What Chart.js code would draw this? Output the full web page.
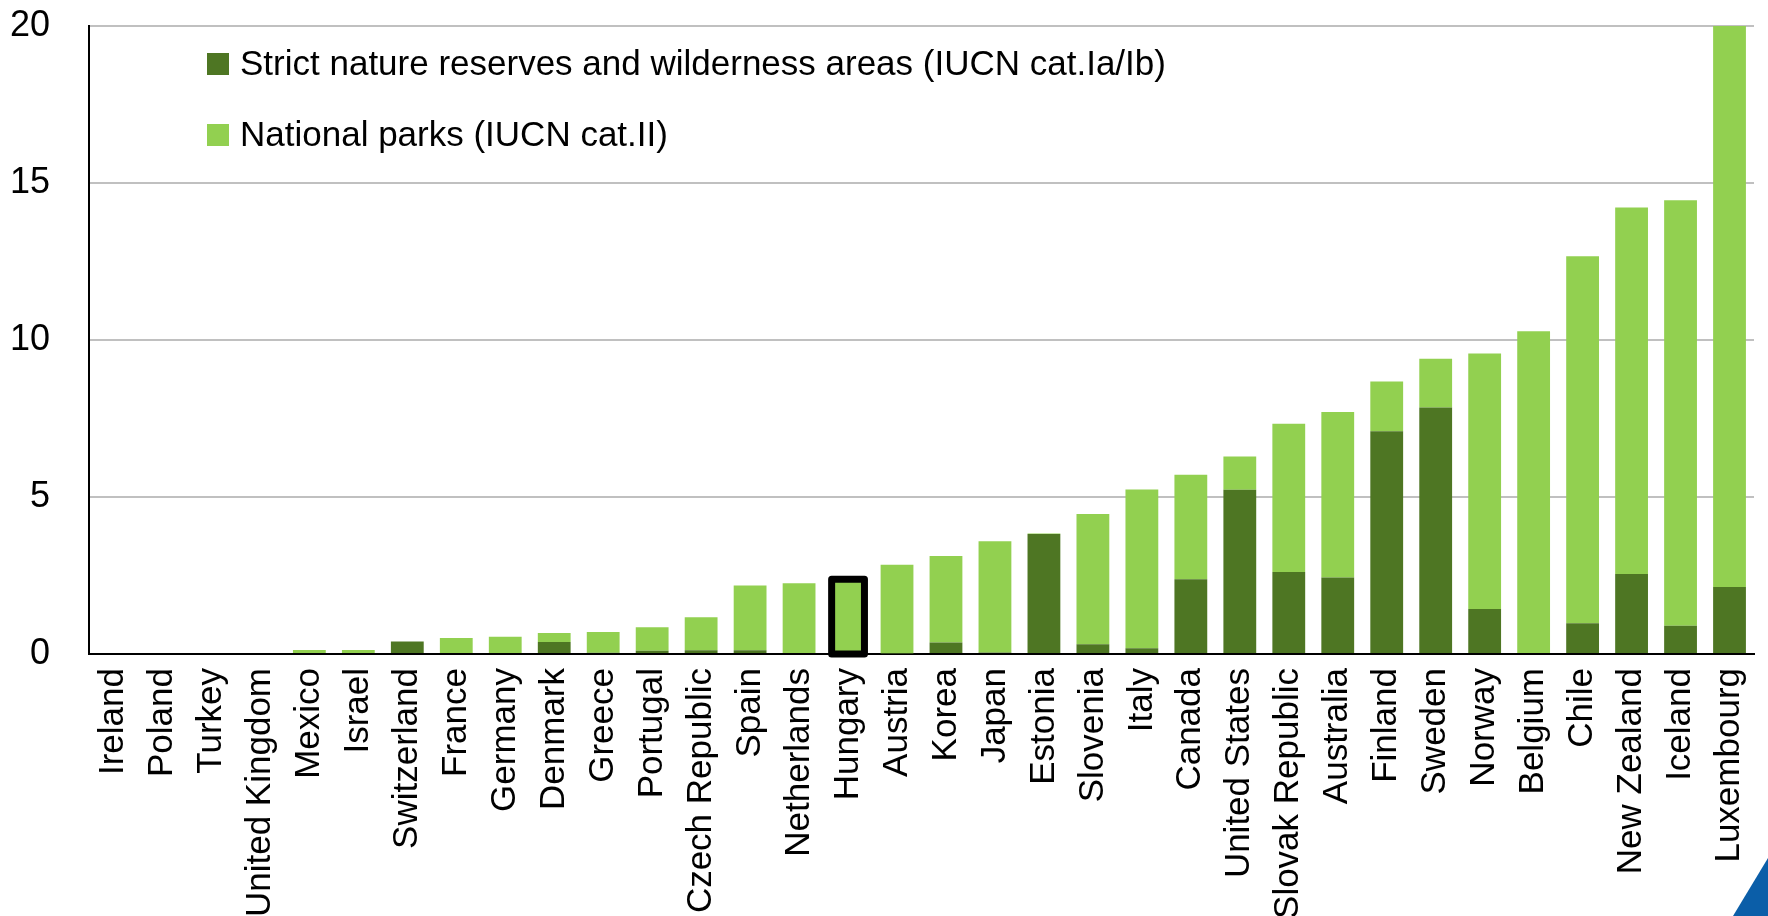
<!DOCTYPE html>
<html>
<head>
<meta charset="utf-8">
<script src="https://cdn.jsdelivr.net/npm/chart.js@4"></script>
<style>
  html, body { margin: 0; padding: 0; background: #fff; }
  canvas { display: block; }
</style>
</head>
<body>
<canvas id="parksChart" width="1768" height="916"></canvas>
<script>
// categories, ordered as in the chart
const countries = [
    'Ireland', 'Poland', 'Turkey', 'United Kingdom', 'Mexico', 'Israel', 'Switzerland',
    'France', 'Germany', 'Denmark', 'Greece', 'Portugal', 'Czech Republic', 'Spain',
    'Netherlands', 'Hungary', 'Austria', 'Korea', 'Japan', 'Estonia', 'Slovenia', 'Italy',
    'Canada', 'United States', 'Slovak Republic', 'Australia', 'Finland', 'Sweden',
    'Norway', 'Belgium', 'Chile', 'New Zealand', 'Iceland', 'Luxembourg'
];

// % of land area
const strictReserves = [
    0, 0, 0, 0, 0, 0, 0.40,
    0, 0, 0.38, 0.04, 0.10, 0.12, 0.12,
    0, 0, 0.02, 0.37, 0.05, 3.82, 0.31, 0.18,
    2.38, 5.23, 2.61, 2.44, 7.09, 7.85,
    1.43, 0, 0.98, 2.55, 0.90, 2.13
];
const nationalParks = [
    0, 0, 0, 0, 0.13, 0.13, 0,
    0.51, 0.55, 0.29, 0.66, 0.75, 1.05, 2.06,
    2.25, 2.38, 2.82, 2.75, 3.54, 0.02, 4.15, 5.06,
    3.33, 1.06, 4.72, 5.27, 1.59, 1.55,
    8.14, 10.28, 11.69, 11.67, 13.55, 21.0
];

const yTicks = [0, 5, 10, 15, 20];
const highlight = 'Hungary';

const DARK = '#4e7623';
const LIGHT = '#92d050';
const FONT = '"Liberation Sans", Arial, sans-serif';

/* ========== PLUGINS ========== */
// legend drawn inside the plot, top-left
const insideLegend = {
    id: 'insideLegend',
    afterDraw(chart) {
        const ctx = chart.ctx;
        const rows = [64, 135];
        ctx.save();
        ctx.font = '35px ' + FONT;
        ctx.textBaseline = 'middle';
        chart.data.datasets.forEach((ds, i) => {
            ctx.fillStyle = ds.backgroundColor;
            ctx.fillRect(207, rows[i] - 11, 22, 22);
            ctx.fillStyle = '#000';
            ctx.fillText(ds.label, 240, rows[i] + 1);
        });
        ctx.restore();
    }
};

// black frame round the highlighted country
const highlightBox = {
    id: 'highlightBox',
    afterDatasetsDraw(chart) {
        const idx = chart.data.labels.indexOf(highlight);
        if (idx < 0) return;
        const top = chart.getDatasetMeta(1).data[idx];
        const base = chart.scales.y.getPixelForValue(0);
        const ctx = chart.ctx;
        ctx.save();
        ctx.strokeStyle = '#000';
        ctx.lineWidth = 7;
        ctx.lineJoin = 'round';
        ctx.strokeRect(top.x - top.width / 2, top.y, top.width, base - top.y);
        ctx.restore();
    }
};

// corner decoration
const cornerMark = {
    id: 'cornerMark',
    afterDraw(chart) {
        const ctx = chart.ctx;
        const w = chart.width, h = chart.height;
        ctx.save();
        ctx.fillStyle = '#0b5ea8';
        ctx.beginPath();
        ctx.moveTo(w - 35, h);
        ctx.lineTo(w, h);
        ctx.lineTo(w, h - 58);
        ctx.closePath();
        ctx.fill();
        ctx.restore();
    }
};

/* ========== CHART ========== */
const ctx = document.getElementById('parksChart').getContext('2d');

new Chart(ctx, {
    type: 'bar',
    data: {
        labels: countries,
        datasets: [
            {
                label: 'Strict nature reserves and wilderness areas (IUCN cat.Ia/Ib)',
                data: strictReserves,
                backgroundColor: DARK,
                borderWidth: 0
            },
            {
                label: 'National parks (IUCN cat.II)',
                data: nationalParks,
                backgroundColor: LIGHT,
                borderWidth: 0
            }
        ]
    },
    options: {
        responsive: false,
        devicePixelRatio: 1,
        animation: false,
        layout: { padding: { top: 26, right: 14, left: 0, bottom: 0 } },
        datasets: { bar: { barPercentage: 0.67, categoryPercentage: 1 } },
        plugins: {
            legend: { display: false },
            tooltip: { enabled: false }
        },
        scales: {
            x: {
                stacked: true,
                grid: { display: false, drawTicks: false },
                border: { display: true, color: '#000', width: 2 },
                ticks: {
                    color: '#000',
                    font: { family: FONT, size: 35 },
                    maxRotation: 90,
                    minRotation: 90,
                    autoSkip: false,
                    padding: 14
                },
                afterFit(scale) {
                    scale.height = 262;
                    scale.paddingLeft = 0;
                    scale.paddingRight = 0;
                }
            },
            y: {
                stacked: true,
                min: 0,
                max: 20,
                afterBuildTicks(scale) { scale.ticks = yTicks.map(v => ({ value: v })); },
                grid: { color: '#c0c0c0', lineWidth: 2, drawTicks: false },
                border: { display: true, color: '#000', width: 2 },
                ticks: {
                    color: '#000',
                    font: { family: FONT, size: 36 },
                    padding: 39
                },
                afterFit(scale) {
                    scale.width = 89;
                    // tick padding would otherwise push the plot top down
                    scale.paddingTop = 0;
                    scale.paddingBottom = 0;
                }
            }
        }
    },
    plugins: [highlightBox, insideLegend, cornerMark]
});
</script>
</body>
</html>
